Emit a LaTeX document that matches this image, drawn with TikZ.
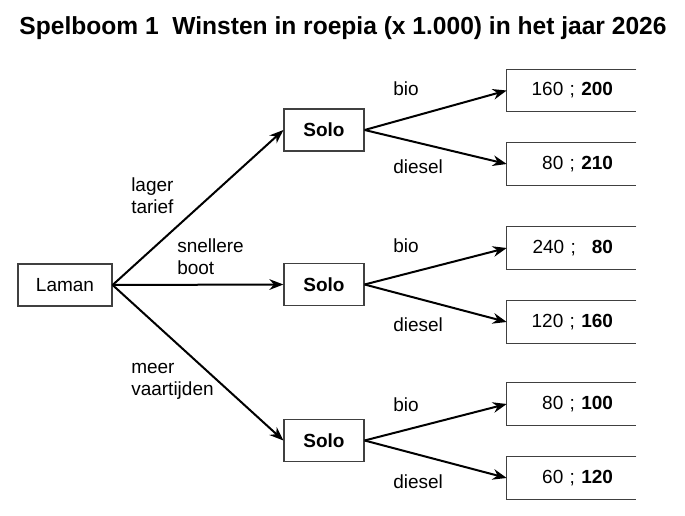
\documentclass[tikz,border=0pt]{standalone}
\usepackage{fontspec}
\setmainfont{Liberation Sans}
\usepackage{graphicx}
\usetikzlibrary{arrows.meta}
\newcommand{\bodyfont}{\fontsize{14.25pt}{16.5pt}\selectfont}
\begin{document}
\begin{tikzpicture}[x=0.75pt,y=-0.75pt,
  box/.style={draw=black!75,line width=0.9pt,minimum height=31.5pt,inner sep=0pt,font=\bodyfont},
  solo/.style={box,minimum width=60pt,font=\bodyfont\bfseries},
  payoff/.style={minimum width=96.75pt,minimum height=31.5pt,inner xsep=17.25pt,inner ysep=0pt,text width=62.25pt,align=right,font=\bodyfont},
  side/.style={draw=black!75,line width=0.9pt},
  edge/.style={line width=1.5pt,-{Stealth[length=10.5pt,width=8pt]}},
  lbl/.style={font=\bodyfont,inner sep=0pt,anchor=base west},
  lbltwo/.style={font=\bodyfont,inner sep=0pt,anchor=base west,align=left}
]
\useasboundingbox (0,0) rectangle (685,516);
\node[anchor=base,inner sep=0pt] (title) at (343,35) {\resizebox{485.25pt}{\height}{\fontsize{18.5pt}{21pt}\selectfont\bfseries Spelboom 1\ \ Winsten in roepia (x 1.000) in het jaar 2026}};

\node[box,minimum width=70.5pt] (laman) at (65,285) {Laman};
\node[solo] (s1) at (324,130) {Solo};
\node[solo] (s2) at (324,284.5) {Solo};
\node[solo] (s3) at (324,440.5) {Solo};

\node[payoff] (p1) at (571.5,90.5) {\mbox{160 ; \textbf{200}}};
\node[payoff] (p2) at (571.5,164) {\mbox{80 ; \textbf{210}}};
\node[payoff] (p3) at (571.5,248) {\mbox{240 ;\hspace{12pt}\textbf{80}}};
\node[payoff] (p4) at (571.5,322) {\mbox{120 ; \textbf{160}}};
\node[payoff] (p5) at (571.5,404) {\mbox{80 ; \textbf{100}}};
\node[payoff] (p6) at (571.5,478) {\mbox{60 ; \textbf{120}}};
\foreach \p in {p1,p2,p3,p4,p5,p6}{
  \draw[side] (\p.north east) -- (\p.north west) -- (\p.south west) -- (\p.south east);
}

\draw[edge] (laman.east) -- (s1.west);
\draw[edge] (laman.east) -- (s2.west);
\draw[edge] (laman.east) -- (s3.west);
\draw[edge] (s1.east) -- (p1.west);
\draw[edge] (s1.east) -- (p2.west);
\draw[edge] (s2.east) -- (p3.west);
\draw[edge] (s2.east) -- (p4.west);
\draw[edge] (s3.east) -- (p5.west);
\draw[edge] (s3.east) -- (p6.west);

\node[lbltwo] (l1) at (131,214) {lager\\tarief};
\node[lbltwo] (l2) at (177,275) {snellere\\boot};
\node[lbltwo] (l3) at (131,395) {meer\\vaartijden};

\node[lbl] (b1) at (393,96) {bio};
\node[lbl] (d1) at (393,174) {diesel};
\node[lbl] (b2) at (393,253) {bio};
\node[lbl] (d2) at (393,332) {diesel};
\node[lbl] (b3) at (393,411) {bio};
\node[lbl] (d3) at (393,488) {diesel};
\end{tikzpicture}
\end{document}
